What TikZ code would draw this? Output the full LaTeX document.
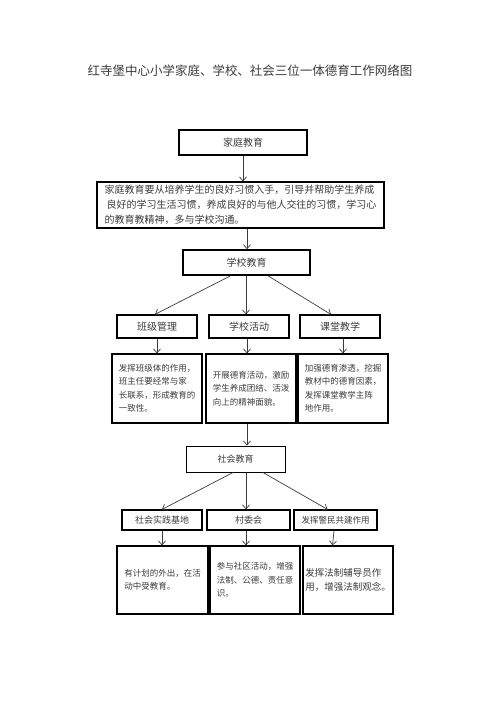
\documentclass[tikz,border=0pt]{standalone}
\usepackage{fontspec}
\newfontfamily\cjk{Noto Sans CJK SC}
\usetikzlibrary{arrows.meta,positioning}
\definecolor{inkgray}{RGB}{60,60,60}

\begin{document}
\begin{tikzpicture}[x=1pt, y=1pt,
  head/.style={draw, line width=1.6pt, inner sep=0pt, text=inkgray,
               font=\cjk\fontsize{10}{12}\selectfont},
  tag/.style={draw, line width=1pt, inner sep=0pt, text=inkgray,
              font=\cjk\fontsize{9}{11}\selectfont},
  note/.style={draw, line width=1.2pt, inner sep=0pt, align=left, text=inkgray,
               minimum width=90pt, font=\cjk\fontsize{8.5}{13.5}\selectfont},
  link/.style={-{Straight Barb[length=4pt,width=7pt]}, draw=inkgray, line width=0.7pt}]

  \fill[white] (0,0) rectangle (496,-702);
  \useasboundingbox (0,0) rectangle (496,-702);

  % title
  \node[text=inkgray, font=\cjk\fontsize{12.5}{14}\selectfont] (title) at (250,-71)
       {红寺堡中心小学家庭、学校、社会三位一体德育工作网络图};

  % family
  \node[head, minimum width=128pt, minimum height=25pt] (home) at (243,-142.5) {家庭教育};
  \node[head, line width=1.2pt, minimum width=287pt, minimum height=46pt, align=left,
        font=\cjk\fontsize{10}{15}\selectfont] (homenote) at (240.5,-205)
       {家庭教育要从培养学生的良好习惯入手，引导并帮助学生养成\\
        \hspace{2pt}良好的学习生活习惯，养成良好的与他人交往的习惯，学习心\\
        的教育教精神，多与学校沟通。};

  % school
  \node[head, minimum width=127pt, minimum height=25pt] (school) at (246.5,-262.5) {学校教育};
  \node[head, line width=1.2pt, minimum width=80pt, minimum height=23pt] (class)    at (157,-326.5) {班级管理};
  \node[head, line width=1.2pt, minimum width=80pt, minimum height=23pt] (activity) at (249,-326.5) {学校活动};
  \node[head, line width=1.2pt, minimum width=80pt, minimum height=23pt] (lesson)   at (340,-326.5) {课堂教学};

  \node[note, minimum height=69pt] (classnote) at (157,-388.5)
       {发挥班级体的作用，\\班主任要经常与家\\长联系，形成教育的\\一致性。};
  \node[note, minimum height=69pt] (activitynote) at (251,-388.5)
       {开展德育活动，激励\\学生养成团结、活泼\\向上的精神面貌。};
  \node[note, minimum height=69pt] (lessonnote) at (343,-388.5)
       {加强德育渗透，挖掘\\教材中的德育因素，\\发挥课堂教学主阵\\地作用。};

  % society
  \node[tag, minimum width=99pt, minimum height=26pt] (society) at (235.5,-459) {社会教育};
  \node[tag, line width=1.2pt, minimum width=80pt, minimum height=20pt] (practice) at (162,-520) {社会实践基地};
  \node[tag, line width=1.2pt, minimum width=83pt, minimum height=20pt] (village)  at (248.5,-520) {村委会};
  \node[tag, line width=1.2pt, minimum width=83pt, minimum height=20pt,
        font=\cjk\fontsize{8.5}{10}\selectfont] (police) at (335.5,-520) {发挥警民共建作用};

  \node[note, minimum width=91pt, minimum height=68pt] (practicenote) at (162.5,-580)
       {有计划的外出，在活\\动中受教育。};
  \node[note, minimum height=68pt] (villagenote) at (255,-580)
       {参与社区活动，增强\\法制、公德、责任意\\识。};
  \node[note, minimum height=68pt, font=\cjk\fontsize{9.5}{14}\selectfont] (policenote) at (348,-580)
       {发挥法制辅导员作\\用，增强法制观念。};

  % connectors
  \draw[link] (home.south) -- ([xshift=2.5pt]homenote.north);
  \draw[link] ([xshift=6.5pt]homenote.south) -- ([xshift=0.5pt]school.north);

  \draw[link] ([xshift=-16pt]school.south) -- ([xshift=-2pt]class.north);
  \draw[link] ([xshift=-0.5pt]school.south) -- ([xshift=-3pt]activity.north);
  \draw[link] ([xshift=21.5pt]school.south) -- ([xshift=-9pt]lesson.north);

  \draw[link] (class.south) -- (classnote.north);
  \draw[link] ([xshift=-2pt]activity.south) -- ([xshift=-4pt]activitynote.north);
  \draw[link] ([xshift=3pt]lesson.south) -- (lessonnote.north);

  \draw[link] ([xshift=-4pt]activitynote.south) -- ([xshift=11.5pt]society.north);

  \draw[link] ([xshift=-2.5pt]society.south) -- (practice.north);
  \draw[link] ([xshift=10.5pt]society.south) -- ([xshift=-2.5pt]village.north);
  \draw[link] ([xshift=27.5pt]society.south) -- ([xshift=-8pt]police.north);

  \draw[link] (practice.south) -- ([xshift=-0.5pt]practicenote.north);
  \draw[link] ([xshift=-2.5pt]village.south) -- ([xshift=-9pt]villagenote.north);
  \draw[link] ([xshift=-1.5pt]police.south) -- ([xshift=-15.5pt]policenote.north);
\end{tikzpicture}
\end{document}
